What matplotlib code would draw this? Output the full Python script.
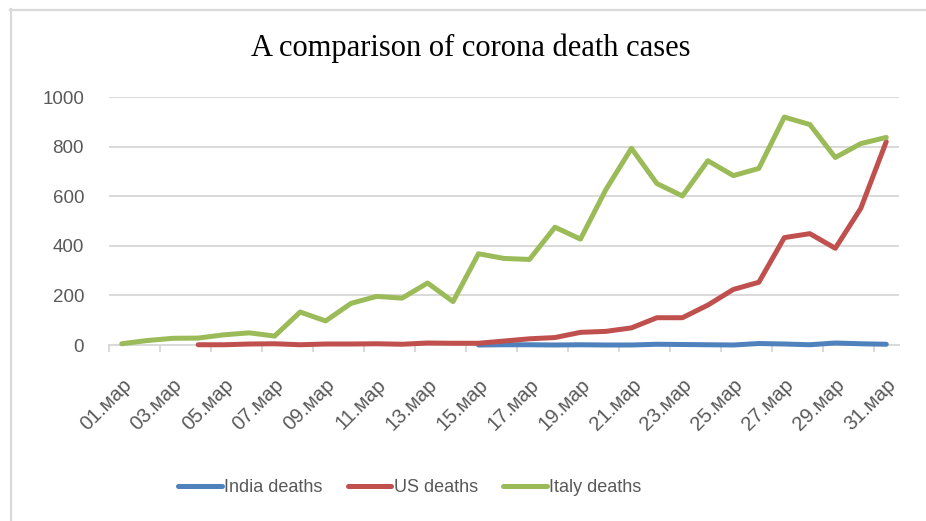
import numpy as np
import matplotlib
matplotlib.use("Agg")
from matplotlib import pyplot as plt
from matplotlib.lines import Line2D
from matplotlib.transforms import ScaledTranslation

nan = np.nan

days = [f"{d:02d}.мар" for d in range(1, 32)]

india_deaths = [nan] * 14 + [0, 1, 1, 0, 1, 0, 0, 3, 2, 1, 0, 6, 4, 1, 8, 5, 3]
us_deaths = [nan] * 3 + [1, 1, 4, 5, 1, 4, 4, 5, 3, 8, 7, 7, 16, 25, 30, 51, 55,
                         69, 110, 110, 161, 224, 253, 433, 449, 390, 551, 820]
italy_deaths = [5, 18, 27, 28, 41, 49, 36, 133, 97, 168, 196, 189, 250, 175, 368,
                349, 345, 475, 427, 627, 793, 651, 601, 743, 683, 712, 919, 889,
                756, 812, 837]

series = [("India deaths", india_deaths, "#4F81BD"),
          ("US deaths", us_deaths, "#C0504D"),
          ("Italy deaths", italy_deaths, "#9BBB59")]

tick_color = "#595959"
grid_color = "#D9D9D9"
label_font = ["Liberation Sans", "DejaVu Sans"]


def main():
    fig = plt.figure(figsize=(9.26, 5.21), dpi=100)
    ax = fig.add_axes([109 / 926, 176 / 521, 790 / 926, 248 / 521])

    x = np.arange(len(days))
    for name, vals, color in series:
        ax.plot(x, vals, color=color, linewidth=3.6, label=name, zorder=3,
                clip_on=False, solid_capstyle="round", solid_joinstyle="round")

    ax.set_xlim(-0.5, len(days) - 0.5)
    ax.set_ylim(0, 1000)
    ax.set_yticks(range(0, 1001, 200))
    ax.yaxis.grid(True, color=grid_color, linewidth=1.4)
    ax.set_axisbelow(True)
    for s in ["top", "right", "left"]:
        ax.spines[s].set_visible(False)
    ax.spines["bottom"].set_color(grid_color)
    ax.spines["bottom"].set_linewidth(1.4)

    ax.set_xticks(x[::2])
    ax.set_xticklabels(days[::2], rotation=45, ha="right", va="top",
                       rotation_mode="anchor", color=tick_color,
                       fontsize=14.5, family=label_font)
    shift = ScaledTranslation(-7 / 100, 0, fig.dpi_scale_trans)
    for t in ax.get_xticklabels():
        t.set_transform(t.get_transform() + shift)
    ax.set_xticks(np.arange(-0.5, len(days) - 1, 2), minor=True)
    ax.tick_params(axis="x", which="major", length=0, pad=22)
    ax.tick_params(axis="x", which="minor", length=5, width=1.4, color=grid_color)
    ax.tick_params(axis="y", length=0, pad=18, labelcolor=tick_color, labelsize=13.5)
    for t in ax.get_yticklabels():
        t.set_family(label_font)

    fig.text(471 / 926, 1 - 48 / 521, "A comparison of corona death cases",
             ha="center", va="center", fontsize=22, family="Liberation Serif")

    handles = [Line2D([], [], color=c, linewidth=3.6, solid_capstyle="round")
               for _, _, c in series]
    fig.legend(handles, [n for n, _, _ in series], loc="center",
               bbox_to_anchor=(410 / 926, 1 - 488 / 521), ncol=3, frameon=False,
               handlelength=2.4, handletextpad=0.15, columnspacing=1.4,
               prop={"family": label_font, "size": 13},
               labelcolor=tick_color)

    # frame of the chart area (top and left edges only)
    fig.add_artist(Line2D([10 / 926, 1], [1 - 9.5 / 521, 1 - 9.5 / 521],
                          transform=fig.transFigure, color=grid_color, linewidth=1.6))
    fig.add_artist(Line2D([10.5 / 926, 10.5 / 926], [0, 1 - 9 / 521],
                          transform=fig.transFigure, color=grid_color, linewidth=1.6))

    fig.savefig("out.png", dpi=100, facecolor="white")


if __name__ == "__main__":
    main()
